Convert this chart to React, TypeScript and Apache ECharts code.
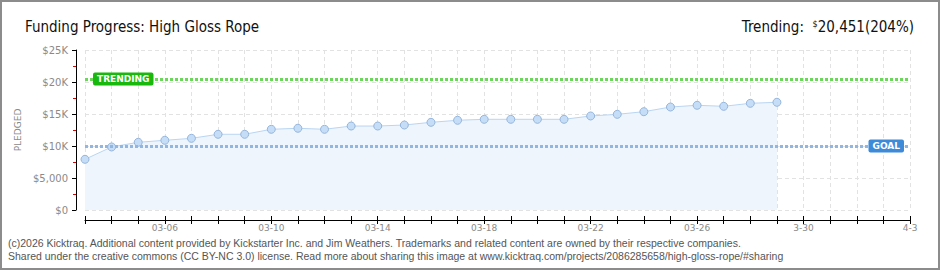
import React, { useEffect, useRef } from "react";
import * as echarts from "echarts";

const titleText = "Funding Progress: High Gloss Rope";
const trendingAmount = "20,451";
const trendingPct = "204%";
const trendingValue = 20451;
const goalValue = 10000;

const days = [
  "03-03", "03-04", "03-05", "03-06", "03-07", "03-08", "03-09", "03-10",
  "03-11", "03-12", "03-13", "03-14", "03-15", "03-16", "03-17", "03-18",
  "03-19", "03-20", "03-21", "03-22", "03-23", "03-24", "03-25", "03-26",
  "03-27", "03-28", "03-29", "03-30", "03-31", "04-01", "04-02", "04-03",
];

const pledged = [
  7920, 9850, 10580, 10890, 11200, 11830, 11830, 12610, 12770, 12610,
  13120, 13120, 13280, 13700, 14020, 14170, 14170, 14170, 14170, 14690,
  14950, 15360, 16090, 16360, 16200, 16670, 16830,
];

const xTickLabels: Record<string, string> = {
  "03-06": "03-06",
  "03-10": "03-10",
  "03-14": "03-14",
  "03-18": "03-18",
  "03-22": "03-22",
  "03-26": "03-26",
  "03-30": "3-30",
  "04-03": "4-3",
};

const yTickLabels = ["$0", "$5,000", "$10K", "$15K", "$20K", "$25K"];

const footerLines = [
  "(c)2026 Kicktraq. Additional content provided by Kickstarter Inc. and Jim Weathers. Trademarks and related content are owned by their respective companies.",
  "Shared under the creative commons (CC BY-NC 3.0) license. Read more about sharing this image at www.kicktraq.com/projects/2086285658/high-gloss-rope/#sharing",
];

const narrow = "'DejaVu Sans Condensed', 'Liberation Sans', sans-serif";

export default function App() {
  const ref = useRef<HTMLDivElement>(null);

  useEffect(() => {
    document.body.style.margin = "0";
    if (!ref.current) return;
    const chart = echarts.init(ref.current, undefined, { renderer: "svg" });
    chart.setOption({
      animation: false,
      backgroundColor: "#ffffff",
      title: [
        {
          text: titleText,
          left: 20,
          top: 14,
          textStyle: { fontFamily: narrow, fontSize: 15, fontWeight: "normal", color: "#111" },
        },
        {
          text: `{a|Trending:  }{s|$}{a|${trendingAmount}(${trendingPct})}`,
          right: 21,
          top: 14,
          textStyle: {
            fontWeight: "normal",
            rich: {
              a: { fontFamily: narrow, fontSize: 15, fontWeight: "normal", color: "#111" },
              s: { fontFamily: narrow, fontSize: 9, fontWeight: "normal", color: "#111", verticalAlign: "top" },
            },
          },
        },
      ],
      grid: { left: 85, right: 30, top: 50, bottom: 60, containLabel: false },
      xAxis: [
        {
          type: "category",
          data: days,
          boundaryGap: false,
          offset: 10,
          axisLine: { show: true, onZero: false, lineStyle: { color: "#000", width: 1 } },
          axisTick: { show: true, interval: 0, length: 4, lineStyle: { color: "#000" } },
          axisLabel: {
            interval: 0,
            margin: 3,
            fontSize: 9,
            fontFamily: "'DejaVu Sans', sans-serif",
            color: "#8a8a8a",
            formatter: (v: string) => xTickLabels[v] ?? "",
          },
          splitLine: { show: true, interval: 0, lineStyle: { color: "#e2e2e2", type: [4, 3] } },
        },
        {
          type: "category",
          data: days,
          boundaryGap: false,
          offset: 10,
          position: "bottom",
          axisLine: { show: false, onZero: false },
          axisTick: { show: true, inside: true, interval: 0, length: 4, lineStyle: { color: "#000" } },
          axisLabel: { show: false },
          splitLine: { show: false },
        },
      ],
      yAxis: {
        type: "value",
        min: 0,
        max: 25000,
        interval: 5000,
        offset: 9,
        name: "PLEDGED",
        nameLocation: "middle",
        nameGap: 47,
        nameTextStyle: { fontSize: 9, color: "#8a8a8a", fontFamily: "'DejaVu Sans', sans-serif" },
        axisLine: { show: true, lineStyle: { color: "#000", width: 1 } },
        axisTick: { show: true, length: 4, lineStyle: { color: "#000" } },
        minorTick: { show: true, splitNumber: 2, length: 3, lineStyle: { color: "#e00000" } },
        axisLabel: {
          margin: 8,
          fontSize: 10,
          fontFamily: "'DejaVu Sans', sans-serif",
          color: "#8a8a8a",
          formatter: (v: number) => yTickLabels[Math.round(v / 5000)] ?? "",
        },
        splitLine: { show: true, lineStyle: { color: "#e2e2e2", type: [4, 3] } },
      },
      series: [
        {
          type: "line",
          data: pledged,
          xAxisIndex: 0,
          symbol: "circle",
          symbolSize: 8,
          lineStyle: { color: "#b9d5f2", width: 1 },
          itemStyle: { color: "#c5ddf7", borderColor: "#96b6dc", borderWidth: 1 },
          areaStyle: { color: "#eef5fd", opacity: 1 },
          markLine: {
            silent: true,
            symbol: "none",
            data: [
              {
                yAxis: trendingValue,
                lineStyle: { color: "#6bd85a", width: 3, type: [3, 2] },
                label: {
                  show: true,
                  position: "insideStart",
                  distance: [8, 0],
                  formatter: "TRENDING",
                  color: "#fff",
                  fontSize: 9,
                  fontWeight: "bold",
                  fontFamily: "'DejaVu Sans', sans-serif",
                  backgroundColor: "#19b80c",
                  padding: [2, 4, 2, 4],
                  borderRadius: 2,
                },
              },
              {
                yAxis: goalValue,
                lineStyle: { color: "#92b6e2", width: 3, type: [3, 2] },
                label: {
                  show: true,
                  position: "insideEnd",
                  distance: [6, 0],
                  formatter: "GOAL",
                  color: "#fff",
                  fontSize: 9,
                  fontWeight: "bold",
                  fontFamily: "'DejaVu Sans', sans-serif",
                  backgroundColor: "#3d8ad9",
                  padding: [2, 4, 2, 4],
                  borderRadius: 2,
                },
              },
            ],
          },
        },
      ],
      graphic: [
        {
          type: "rect",
          shape: { x: 1, y: 1, width: 938, height: 268 },
          style: { fill: "none", stroke: "#8c8c8c", lineWidth: 2 },
          silent: true,
        },
        {
          type: "text",
          left: 8,
          top: 237,
          style: { text: footerLines[0], fontSize: 10.5, fill: "#555", fontFamily: "'Liberation Sans', sans-serif" },
        },
        {
          type: "text",
          left: 8,
          top: 250,
          style: { text: footerLines[1], fontSize: 10.5, fill: "#555", fontFamily: "'Liberation Sans', sans-serif" },
        },
      ],
    });
    return () => chart.dispose();
  }, []);

  return <div ref={ref} style={{ width: 940, height: 270 }} />;
}
